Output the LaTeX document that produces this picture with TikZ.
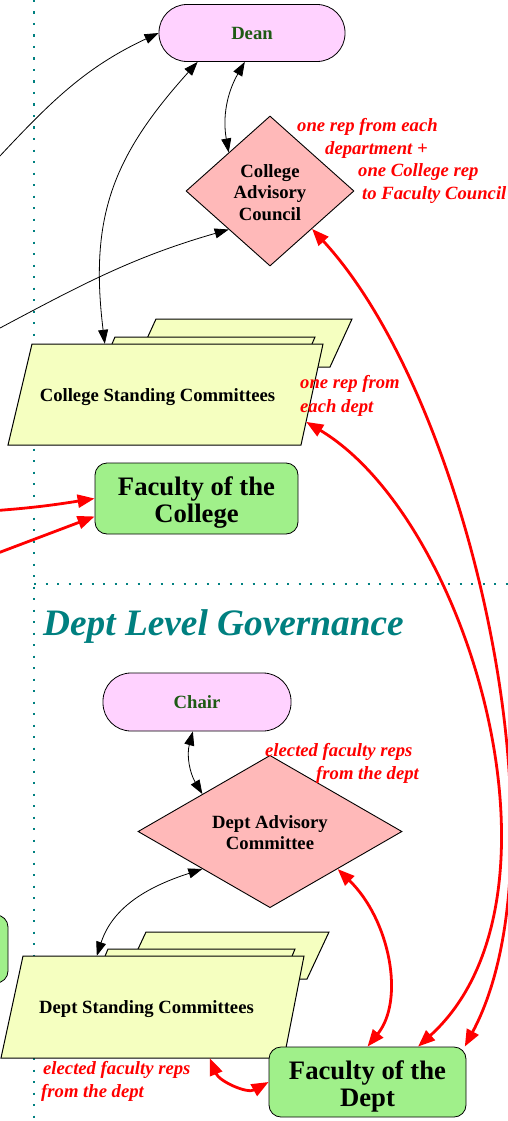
\documentclass[tikz,border=0pt]{standalone}
\usepackage{fontspec}
\setmainfont{Liberation Serif}
\usetikzlibrary{shapes.geometric,arrows.meta,calc}
\definecolor{deanfill}{RGB}{255,210,255}
\definecolor{deantext}{RGB}{30,90,20}
\definecolor{diafill}{RGB}{255,185,185}
\definecolor{parfill}{RGB}{245,255,192}
\definecolor{facfill}{RGB}{160,240,138}
\definecolor{govteal}{RGB}{0,128,128}
\definecolor{annred}{RGB}{255,0,0}
\begin{document}
\begin{tikzpicture}[x=1pt,y=1pt,
  every node/.style={font=\fontsize{18.67}{21.5}\selectfont\bfseries},
  leader/.style={rectangle, rounded corners=28pt, draw, line width=0.8pt, fill=deanfill, text=deantext, inner sep=0},
  council/.style={diamond, draw, line width=0.9pt, fill=diafill, align=center, inner sep=0},
  sheetbox/.style={rectangle, draw=none, inner sep=0},
  sheetpoly/.style={draw, line width=1pt, fill=parfill},
  faculty/.style={rectangle, rounded corners=12pt, draw, line width=0.8pt, fill=facfill, align=center, inner sep=0, font=\fontsize{26.67}{27}\selectfont\bfseries},
  note/.style={text=annred, font=\fontsize{18.67}{22.7}\selectfont\bfseries\itshape, align=left, inner sep=0, anchor=north west},
  blk/.style={line width=0.8pt, {Triangle[length=14pt,width=10pt]}-{Triangle[length=14pt,width=10pt]}},
  blkone/.style={line width=0.8pt, -{Triangle[length=14pt,width=10pt]}},
  redone/.style={line width=2.8pt, annred, -{Triangle[length=17pt,width=13pt]}},
  redboth/.style={line width=2.8pt, annred, {Triangle[length=17pt,width=13pt]}-{Triangle[length=17pt,width=13pt]}},
  gridline/.style={govteal, line width=2.4pt, dash pattern=on 2.4pt off 9.1pt}
]
\useasboundingbox (0,0) rectangle (508,-1121);
\clip (0,0) rectangle (508,-1121);
\fill[white] (0,0) rectangle (508,-1121);

% dotted separators
\draw[gridline] (34,0) -- (34,-1121);
\draw[gridline] (34,-584) -- (508,-584);

% off-page ends
\coordinate (la) at (-15,-172);
\coordinate (lb) at (-15,-336);
\coordinate (lr1) at (-10,-511);
\coordinate (lr2) at (-10,-556);

% partial node at left edge
\node[faculty, minimum width=150pt, minimum height=68pt] (leftfac) at (-67,-949) {};

% college level
\node[leader, minimum width=186pt, minimum height=57pt] (dean) at (252,-33) {Dean};
\node[council, minimum width=168pt, minimum height=150pt] (cac) at (270,-191) {\rule{0pt}{16pt}College\\Advisory\\Council};
\path[sheetpoly] (156,-319) -- (352,-319) -- (330,-367) -- (134,-367) -- cycle;
\path[sheetpoly] (115,-337) -- (315,-337) -- (296,-381) -- (96,-381) -- cycle;
\path[sheetpoly] (32,-344) -- (323,-344) -- (301,-445) -- (8,-445) -- cycle;
\node[sheetbox, minimum width=315pt, minimum height=101pt] (csc) at (165.5,-394.5) {\hspace*{-16pt}\rule{0pt}{18pt}College Standing Committees};
\node[faculty, minimum width=203pt, minimum height=71pt] (foc) at (196.5,-498.5) {\rule{0pt}{27pt}Faculty of the\\College};

\node[note] (cacnote) at (297,-118) {one rep from each\\\hspace*{28pt}department +\\\hspace*{61pt}one College rep\\\hspace*{65pt}to Faculty Council};
\node[note, font=\fontsize{18.67}{24}\selectfont\bfseries\itshape] (cscnote) at (300,-375) {one rep from\\each dept};

% dept level
\node[anchor=base west, text=govteal, inner sep=0, font=\fontsize{37.3}{40}\selectfont\bfseries\itshape] (title) at (43,-635) {Dept Level Governance};
\node[leader, minimum width=188pt, minimum height=58pt] (chair) at (197,-702) {Chair};
\node[council, minimum width=264pt, minimum height=143pt] (dac) at (270,-831.5) {\rule{0pt}{15pt}Dept Advisory\\Committee};
\path[sheetpoly] (146,-932) -- (329,-932) -- (307,-979) -- (124,-979) -- cycle;
\path[sheetpoly] (108,-949) -- (295,-949) -- (280,-985) -- (93,-985) -- cycle;
\path[sheetpoly] (23,-956) -- (304,-956) -- (284,-1058) -- (1,-1058) -- cycle;
\node[sheetbox, minimum width=303pt, minimum height=102pt] (dsc) at (152.5,-1007) {\hspace*{-12pt}\rule{0pt}{18pt}Dept Standing Committees};
\node[faculty, minimum width=197pt, minimum height=70pt] (fod) at (367.5,-1082) {\rule{0pt}{28pt}Faculty of the\\Dept};

\node[note] (dacnote) at (265,-743) {elected faculty reps\\\hspace*{51pt}from the dept};
\node[note] (dscnote) at (41,-1061) {\hspace*{2pt}elected faculty reps\\from the dept};

% black connectors
\draw[blkone] (la) to[out=47,in=205] (dean.west);
\draw[blkone] (lb) to[out=28,in=196] (cac.223);
\draw[blk] (dean.256) to[out=240,in=100] (cac.137);
\draw[blk] (dean.208) to[out=228,in=97,looseness=1.1] ($(csc.north west)+(97,0)$);
\draw[blk] (chair.262) to[out=255,in=121] (dac.151);
\draw[blk] (dac.209) to[out=198,in=72] ($(dsc.north west)+(96,0)$);

% red connectors
\draw[redone] (lr1) to[out=4,in=189] (foc.west);
\draw[redone] (lr2) -- (foc.190);
\draw[redboth] (cac.318) .. controls (470,-400) and (570,-850) .. (fod.20);
\draw[redboth] ($(csc.north east)!0.77!(csc.south east)+(-17,0)$) .. controls (470,-520) and (580,-900) .. (fod.35);
\draw[redboth] (dac.331) .. controls (390,-920) and (405,-1000) .. (fod.north);
\draw[redboth] ($(dsc.south west)+(209,0)$) to[out=-68,in=209] (fod.west);
\end{tikzpicture}
\end{document}
